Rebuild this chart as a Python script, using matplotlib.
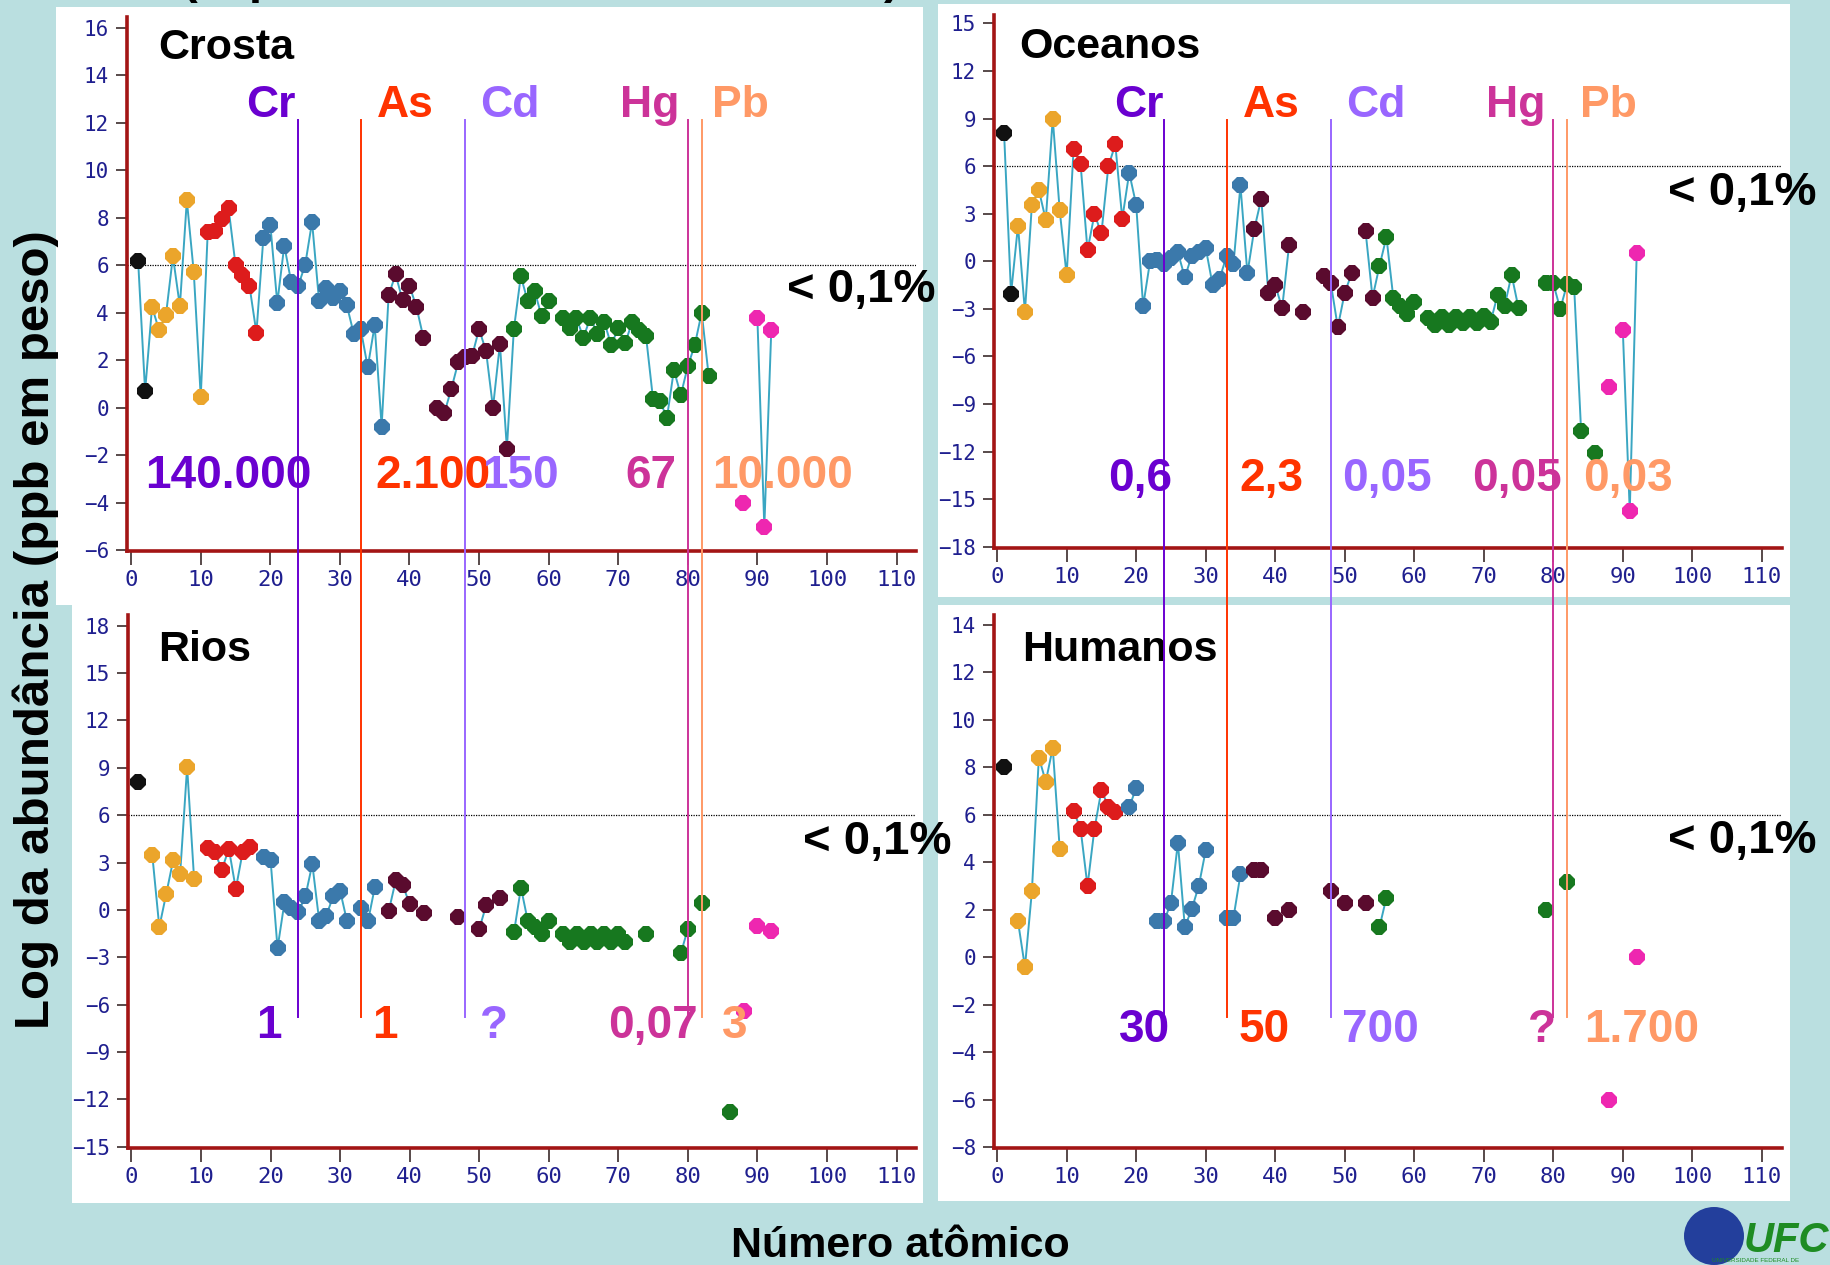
import numpy as np
import matplotlib.pyplot as plt
from matplotlib.patches import Rectangle, Ellipse
from matplotlib.lines import Line2D
import matplotlib.transforms as mtransforms

# atomic number -> log10 abundance (ppb by weight)
crosta_z = [1, 2, 3, 4, 5, 6, 7, 8, 9, 10, 11, 12, 13, 14, 15, 16, 17, 18,
            19, 20, 21, 22, 23, 24, 25, 26, 27, 28, 29, 30, 31, 32, 33, 34, 35, 36,
            37, 38, 39, 40, 41, 42, 44, 45, 46, 47, 48, 49, 50, 51, 52, 53, 54,
            55, 56, 57, 58, 59, 60, 62, 63, 64, 65, 66, 67, 68, 69, 70, 71, 72,
            73, 74, 75, 76, 77, 78, 79, 80, 81, 82, 83, 88, 90, 91, 92]
crosta_val = [6.18, 0.69, 4.24, 3.27, 3.9, 6.37, 4.27, 8.73, 5.69, 0.45,
              7.39, 7.42, 7.95, 8.39, 6.0, 5.6, 5.13, 3.15,
              7.15, 7.7, 4.4, 6.82, 5.3, 5.13, 6.0, 7.82, 4.5, 5.05, 4.6, 4.9, 4.3, 3.1, 3.3, 1.7, 3.47, -0.8,
              4.73, 5.61, 4.53, 5.13, 4.24, 2.95, 0.0, -0.24, 0.77, 1.9, 2.15, 2.18, 3.3, 2.39, 0.0, 2.68, -1.73,
              3.3, 5.53, 4.48, 4.89, 3.84, 4.48, 3.76, 3.35, 3.76, 2.95, 3.79, 3.11, 3.6, 2.63, 3.35, 2.71, 3.6,
              3.27, 3.0, 0.37, 0.29, -0.44, 1.58, 0.53, 1.74, 2.63, 4.0, 1.34, -4.03, 3.79, -5.03, 3.27]

oceanos_z = [1, 2, 3, 4, 5, 6, 7, 8, 9, 10, 11, 12, 13, 14, 15, 16, 17, 18,
             19, 20, 21, 22, 23, 24, 25, 26, 27, 28, 29, 30, 31, 32, 33, 34, 35, 36,
             37, 38, 39, 40, 41, 42, 44, 47, 48, 49, 50, 51, 53, 54,
             55, 56, 57, 58, 59, 60, 62, 63, 64, 65, 66, 67, 68, 69, 70, 71, 72,
             73, 74, 75, 79, 80, 81, 82, 83, 84, 86, 88, 90, 91, 92]
oceanos_val = [8.09, -2.05, 2.25, -3.19, 3.57, 4.49, 2.61, 9.0, 3.21, -0.89,
               7.08, 6.16, 0.68, 2.97, 1.76, 5.99, 7.37, 2.68,
               5.58, 3.57, -2.83, 0.0, 0.1, -0.17, 0.19, 0.56, -1.01, 0.36, 0.56, 0.85, -1.5, -1.09, 0.31, -0.17, 4.78, -0.77,
               2.05, 3.94, -1.98, -1.5, -2.95, 1.04, -3.19, -0.94, -1.38, -4.15, -1.98, -0.77, 1.88, -2.29,
               -0.29, 1.52, -2.34, -2.83, -3.3, -2.58, -3.55, -4.03, -3.5, -4.0, -3.5, -3.9, -3.5, -3.9, -3.43, -3.8, -2.1,
               -2.83, -0.85, -2.95, -1.38, -1.4, -3.0, -1.43, -1.62, -10.68, -12.1, -7.95, -4.32, -15.75, 0.51]

rios_z = [1, 3, 4, 5, 6, 7, 8, 9, 11, 12, 13, 14, 15, 16, 17,
          19, 20, 21, 22, 23, 24, 25, 26, 27, 28, 29, 30, 31, 33, 34, 35,
          37, 38, 39, 40, 42, 47, 50, 51, 53,
          55, 56, 57, 58, 59, 60, 62, 63, 64, 65, 66, 67, 68, 69, 70, 71, 74, 79, 80, 82, 86,
          88, 90, 92]
rios_val = [8.08, 3.45, -1.09, 1.02, 3.16, 2.3, 9.05, 1.99, 3.93, 3.64, 2.55, 3.88, 1.33, 3.7, 4.0,
            3.35, 3.16, -2.43, 0.49, 0.12, -0.12, 0.85, 2.91, -0.73, -0.36, 0.85, 1.21, -0.73, 0.12, -0.73, 1.46,
            -0.05, 1.87, 1.58, 0.36, -0.19, -0.44, -1.21, 0.29, 0.78,
            -1.41, 1.41, -0.73, -1.09, -1.5, -0.68, -1.5, -2.06, -1.5, -2.06, -1.5, -2.06, -1.5, -2.06, -1.5, -2.06,
            -1.5, -2.72, -1.21, 0.44, -12.8,
            -6.43, -1.02, -1.33]

humanos_z = [1, 3, 4, 5, 6, 7, 8, 9, 11, 12, 13, 14, 15, 16, 17,
             19, 20, 23, 24, 25, 26, 27, 28, 29, 30, 33, 34, 35,
             37, 38, 40, 42, 48, 50, 53, 55, 56, 79, 82, 88, 92]
humanos_val = [8.0, 1.51, -0.42, 2.77, 8.4, 7.39, 8.81, 4.57, 6.14, 5.41, 2.99, 5.41, 7.02, 6.34, 6.1,
               6.31, 7.12, 1.51, 1.51, 2.28, 4.82, 1.27, 2.03, 2.99, 4.49, 1.67, 1.67, 3.48,
               3.68, 3.68, 1.67, 2.0, 2.77, 2.28, 2.28, 1.27, 2.51, 2.0, 3.17, -5.99, 0.0]

# highlighted elements and their abundances (ppb) in each reservoir
elements = ['Cr', 'As', 'Cd', 'Hg', 'Pb']
element_z = [24, 33, 48, 80, 82]
crosta_ppb = ['140.000', '2.100', '150', '67', '10.000']
oceanos_ppb = ['0,6', '2,3', '0,05', '0,05', '0,03']
rios_ppb = ['1', '1', '?', '0,07', '3']
humanos_ppb = ['30', '50', '700', '?', '1.700']

# periods: first atomic number of each row of the periodic table
period_start = [1, 3, 11, 19, 37, 55, 87]

W, H = 1831, 1265
BG = '#badfe0'
SPINE = '#a31515'
LINE = '#3aa6c2'
period_colors = ['#111111', '#eba52b', '#dd1c1c', '#3b79ab', '#5a0b2e', '#17781f', '#ee27b0']
element_colors = ['#6a00d0', '#ff3300', '#9966ff', '#cc3399', '#ff9966']
BOLD = ['Liberation Sans', 'DejaVu Sans']

fig = plt.figure(figsize=(W / 100, H / 100), dpi=100, facecolor=BG)


def fx(x):
    return x / W


def fy(y):
    return 1 - y / H


def ptext(x, y, s, color='black', size=32, **kw):
    fig.text(fx(x), fy(y), s, color=color, fontsize=size, fontweight='bold',
             family=BOLD, ha='left', va='baseline', **kw)


# white panels
for x0, y0, x1, y1 in [(56, 7, 923, 605), (72, 605, 923, 1203),
                       (938, 4, 1790, 597), (938, 605, 1790, 1201)]:
    fig.add_artist(Rectangle((fx(x0), fy(y1)), fx(x1 - x0), (y1 - y0) / H,
                             transform=fig.transFigure, facecolor='white',
                             edgecolor='none', zorder=-5))


def panel(box, xlim, ylim, yticks, z, val):
    left, top, right, bottom = box
    ax = fig.add_axes([fx(left), fy(bottom), fx(right - left), (bottom - top) / H])
    ax.set_facecolor('none')
    ax.set_xlim(*xlim)
    ax.set_ylim(*ylim)
    ax.set_xticks(np.arange(0, 111, 10))
    ax.set_yticks(yticks)
    for s in ['top', 'right']:
        ax.spines[s].set_visible(False)
    for s in ['left', 'bottom']:
        ax.spines[s].set_color(SPINE)
        ax.spines[s].set_linewidth(2.6)
    ax.tick_params(axis='x', direction='out', length=10, width=1.2, color='#3b2b2b',
                   pad=4, labelsize=16, labelcolor='#1f1f8f')
    ax.tick_params(axis='y', direction='out', length=8, width=1.2, color='#3b2b2b',
                   pad=5, labelsize=15, labelcolor='#1f1f8f')
    for lab in ax.get_xticklabels() + ax.get_yticklabels():
        lab.set_family('DejaVu Sans Mono')

    # connecting line with gaps where an element is missing
    zz = np.arange(1, 93)
    full = np.full(92, np.nan)
    full[np.array(z) - 1] = val
    ax.plot(zz, full, color=LINE, lw=1.4, zorder=2, clip_on=False)

    z = np.array(z)
    val = np.array(val)
    bounds = period_start + [200]
    for i, c in enumerate(period_colors):
        m = (z >= bounds[i]) & (z < bounds[i + 1])
        ax.plot(z[m], val[m], ls='none', marker='8', ms=12, color=c,
                markeredgewidth=0, zorder=3, clip_on=False)

    ax.axhline(6, color='black', ls=(0, (1, 1)), lw=0.9, zorder=1)
    return ax


ax_c = panel((127, 17, 916, 551), (-0.6, 112.8), (-6.04, 16.45),
             np.arange(-6, 17, 2), crosta_z, crosta_val)
ax_o = panel((994, 15, 1782, 548), (-0.45, 112.9), (-18.08, 15.53),
             np.arange(-18, 16, 3), oceanos_z, oceanos_val)
ax_r = panel((128, 615, 916, 1148), (-0.5, 112.8), (-15.08, 18.68),
             np.arange(-15, 19, 3), rios_z, rios_val)
ax_h = panel((994, 615, 1782, 1148), (-0.45, 112.9), (-8.03, 14.4),
             np.arange(-8, 15, 2), humanos_z, humanos_val)

# element marker lines running through both rows of each column
for ax in [ax_c, ax_o]:
    tr = mtransforms.blended_transform_factory(ax.transData, fig.transFigure)
    for zval, c in zip(element_z, element_colors):
        fig.add_artist(Line2D([zval, zval], [fy(120), fy(1017)], transform=tr,
                              color=c, lw=1.4, zorder=5))

# panel titles
ptext(158, 59, 'Crosta', size=31)
ptext(1019, 58, 'Oceanos', size=31)
ptext(158, 661, 'Rios', size=31)
ptext(1022, 661, 'Humanos', size=31)

# element names
for name, c, xl, xr in zip(elements, element_colors,
                           [246, 377, 480, 620, 712], [1114, 1243, 1346, 1486, 1580]):
    ptext(xl, 117, name, c, 32)
    ptext(xr, 117, name, c, 32)

# abundance numbers
for labels, xs, base in [(crosta_ppb, [145, 375, 482, 625, 712], 488),
                         (oceanos_ppb, [1108, 1239, 1342, 1472, 1583], 491),
                         (rios_ppb, [256, 372, 480, 608, 722], 1038),
                         (humanos_ppb, [1119, 1239, 1342, 1528, 1584], 1042)]:
    for s, c, x in zip(labels, element_colors, xs):
        ptext(x, base, s, c, 33)

# threshold label
for x, y in [(787, 302), (1668, 205), (803, 854), (1668, 853)]:
    ptext(x, y, '< 0,1%', 'black', 34)

# axis titles
fig.text(fx(36), fy(630), 'Log da abundância (ppb em peso)', rotation=90,
         fontsize=35.5, fontweight='bold', family=BOLD, ha='center', va='center')
fig.text(fx(900), fy(1257), 'Número atômico', fontsize=31, fontweight='bold',
         family=BOLD, ha='center', va='baseline')

# bits of a title line cut off at the top edge
ptext(182, -7, '(', size=34)
ptext(249, -7, 'p', size=34)
ptext(884, -7, ')', size=34)

# logo
fig.add_artist(Ellipse((fx(1714), fy(1236)), 60 / W, 58 / H, transform=fig.transFigure,
                       facecolor='#233f9c', edgecolor='none'))
fig.text(fx(1744), fy(1252), 'UFC', fontsize=30, fontweight='bold', style='italic',
         color='#1e8c23', family=BOLD, va='baseline')
fig.text(fx(1712), fy(1262), 'UNIVERSIDADE FEDERAL DE', fontsize=4.5,
         color='#1e8c23', family=BOLD, va='baseline')

fig.savefig('out.png', dpi=100, facecolor=BG)
